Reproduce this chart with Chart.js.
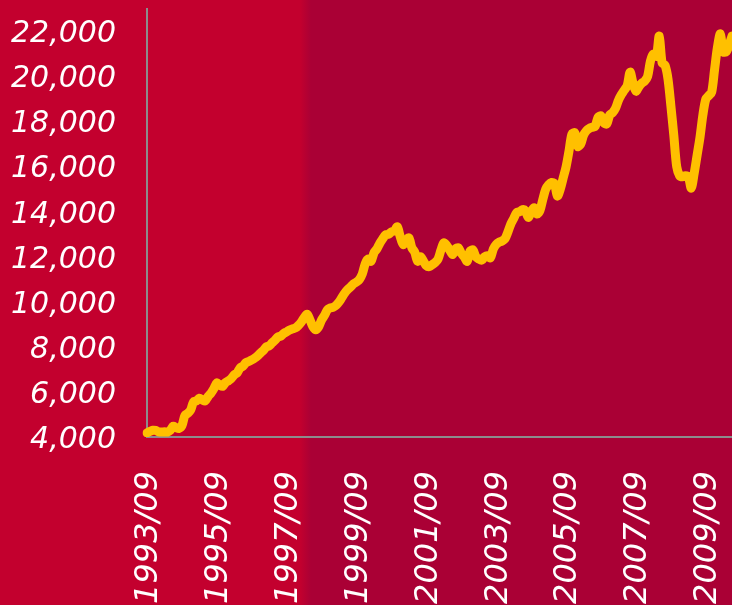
<!DOCTYPE html>
<html>
<head>
<meta charset="utf-8">
<script src="https://cdn.jsdelivr.net/npm/chart.js@4/dist/chart.umd.min.js"></script>
<style>
  html, body {
    margin: 0;
    padding: 0;
    overflow: hidden;
    background: linear-gradient(to right, #c3002e 0px, #c3002e 300px, #aa0035 311px, #aa0035 100%);
  }
  #wrap { width: 732px; height: 605px; }
</style>
</head>
<body>
<div id="wrap"><canvas id="indexChart" width="732" height="605"></canvas></div>
<script>
// monthly series, starting 1993/09
const startYear = 1993;
const startMonth = 9;

const values = [
  4180, 4250, 4300, 4290, 4230, 4220, 4230, 4220, 4300, 4480,
  4420, 4380, 4500, 4950, 5050, 5200, 5560, 5600, 5720, 5650,
  5600, 5800, 5950, 6150, 6400, 6300, 6250, 6420, 6500, 6600,
  6760, 6850, 7070, 7150, 7300, 7350, 7420, 7500, 7600, 7730,
  7850, 8000, 8050, 8180, 8300, 8440, 8480, 8600, 8670, 8750,
  8800, 8840, 8950, 9100, 9300, 9450, 9200, 8900, 8760, 8900,
  9200, 9400, 9650, 9730, 9760, 9850, 10000, 10200, 10400, 10550,
  10670, 10800, 10880, 11000, 11250, 11700, 11900, 11800, 12180, 12350,
  12600, 12800, 12980, 13000, 13110, 13150, 13330, 12900, 12550, 12700,
  12840, 12400, 12200, 11800, 12000, 11800, 11600, 11560, 11650, 11750,
  11900, 12300, 12620, 12500, 12300, 12100, 12350, 12400, 12150, 12000,
  11800, 12250, 12300, 12000, 11900, 11850, 12000, 12050, 11950, 12350,
  12550, 12650, 12700, 12800, 13100, 13450, 13700, 13960, 14000, 14090,
  14050, 13750, 14000, 14180, 13900, 14050, 14550, 15000, 15200, 15300,
  15250, 14700, 15000, 15500, 16000, 16700, 17450, 17500, 16900, 17000,
  17400, 17600, 17700, 17750, 17800, 18200, 18250, 17950, 17900, 18300,
  18400, 18600, 18950, 19200, 19400, 19600, 20200, 19700, 19350, 19550,
  19700, 19800, 20000, 20700, 21000, 20900, 21800, 20600, 20500, 19900,
  18700, 17400, 16000, 15600, 15550, 15600, 15550, 15050, 15700, 16500,
  17300, 18300, 19000, 19150, 19300, 20300, 21300, 21900, 21100, 21100,
  21400, 21800
];

const yMin = 4000;
const yMax = 23000;
const yTicks = [4000, 6000, 8000, 10000, 12000, 14000, 16000, 18000, 20000, 22000];
const labelEvery = 24;

const months = [];
for (let i = 0; i < values.length; i++) {
  const m = startMonth - 1 + i;
  const y = startYear + Math.floor(m / 12);
  const mm = (m % 12) + 1;
  months.push(y + '/' + String(mm).padStart(2, '0'));
}

new Chart(document.getElementById('indexChart').getContext('2d'), {
  type: 'line',
  data: {
    labels: months,
    datasets: [{
      data: values,
      borderColor: '#ffc000',
      borderWidth: 9,
      borderJoinStyle: 'round',
      borderCapStyle: 'round',
      pointRadius: 0,
      tension: 0.3,
      fill: false,
    }],
  },
  options: {
    responsive: false,
    animation: false,
    layout: { padding: { top: 9, left: 0, right: 0, bottom: 0 } },
    plugins: { legend: { display: false }, tooltip: { enabled: false } },
    scales: {
      x: {
        type: 'category',
        offset: false,
        grid: { display: false, drawTicks: false },
        border: { display: true, color: '#8c8c8c', width: 2 },
        ticks: {
          autoSkip: false,
          maxRotation: 90,
          minRotation: 90,
          padding: 34,
          labelOffset: 2,
          color: '#ffffff',
          font: { family: 'DejaVu Sans', size: 32, style: 'italic', lineHeight: 1 },
          callback: function (val, idx) {
            return idx % labelEvery === 0 ? this.getLabelForValue(val) : '';
          },
        },
        afterFit: (scale) => {
          scale.height = 605 - 437;
          scale.paddingRight = 0;
          scale.paddingLeft = 0;
        },
      },
      y: {
        min: yMin,
        max: yMax,
        grid: { display: false, drawTicks: false },
        border: { display: true, color: '#8c8c8c', width: 2 },
        afterBuildTicks: (scale) => {
          scale.ticks = yTicks.map((v) => ({ value: v }));
        },
        ticks: {
          autoSkip: false,
          padding: 31,
          labelOffset: 3,
          color: '#ffffff',
          font: { family: 'DejaVu Sans', size: 30, style: 'italic', lineHeight: 1 },
          callback: (v) => v.toLocaleString('en-US'),
        },
        afterFit: (scale) => {
          scale.width = 147;
          scale.paddingTop = 0;
          scale.paddingBottom = 0;
        },
      },
    },
  },
});
</script>
</body>
</html>
